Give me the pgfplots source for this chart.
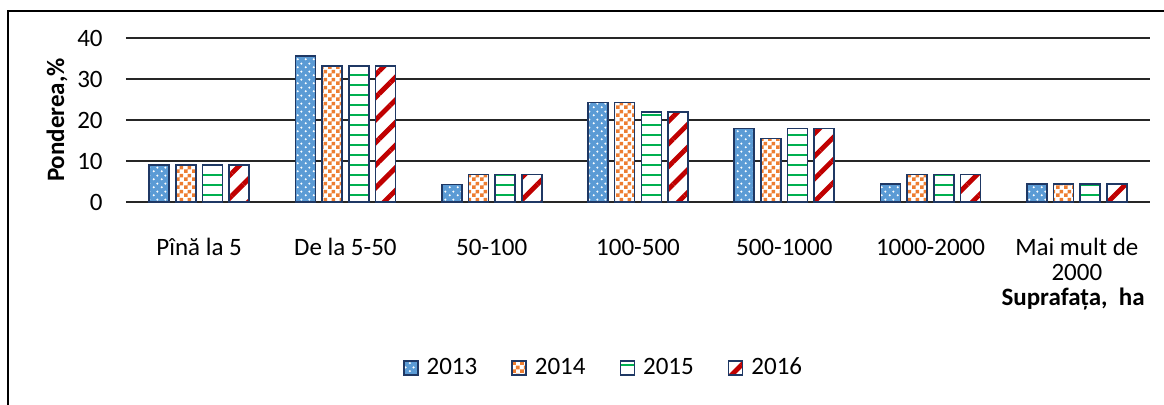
\documentclass[border=0pt]{standalone}
\usepackage{fontspec}
\setmainfont{Carlito}
\usepackage{pgfplots}
\pgfplotsset{compat=1.18}
\usetikzlibrary{patterns,patterns.meta}
\definecolor{c13}{RGB}{91,155,213}
\definecolor{c14}{RGB}{237,125,49}
\definecolor{c15}{RGB}{0,176,80}
\definecolor{c16}{RGB}{192,0,0}
\definecolor{bord}{RGB}{31,56,100}
\pgfdeclarepatternformonly{smallcheck}{\pgfpointorigin}{\pgfqpoint{4pt}{4pt}}{\pgfqpoint{4pt}{4pt}}{%
  \pgfpathrectangle{\pgfpointorigin}{\pgfqpoint{2pt}{2pt}}%
  \pgfpathrectangle{\pgfqpoint{2pt}{2pt}}{\pgfqpoint{2pt}{2pt}}%
  \pgfusepath{fill}}
\pgfdeclarepatternformonly{mydots}{\pgfpointorigin}{\pgfqpoint{4pt}{4pt}}{\pgfqpoint{4pt}{4pt}}{%
  \pgfpathcircle{\pgfqpoint{1pt}{1pt}}{0.65pt}%
  \pgfpathcircle{\pgfqpoint{3pt}{3pt}}{0.65pt}%
  \pgfusepath{fill}}
\pgfplotsset{
  sqleg/.style={legend image code/.code={\path[##1] (0pt,-3.5pt) rectangle (7pt,3.5pt);}},
}
\begin{document}
\begin{tikzpicture}[font=\fontsize{12.5}{15}\selectfont]
\useasboundingbox (-63pt,-101.5pt) rectangle (519pt,101pt);
\draw[line width=0.75pt] (-59pt,-102pt) -- (-59pt,95.5pt) -- (520pt,95.5pt);
\begin{axis}[
  at={(0,0)}, anchor=south west, scale only axis,
  width=512pt, height=82pt,
  xmin=-0.5, xmax=6.5, ymin=0, ymax=40,
  ytick={0,10,20,30,40},
  xtick={0,...,6},
  xticklabels={Pînă la 5, De la 5-50, 50-100, 100-500, 500-1000, 1000-2000, {\begin{tabular}[t]{@{}c@{}}Mai mult de\\[-2.5pt]2000\end{tabular}}},
  xticklabel style={anchor=base, yshift=-22.5pt},
  yticklabel style={anchor=east, inner sep=0pt, xshift=-11.5pt},
  /pgf/number format/assume math mode=true,
  axis line style={draw=none},
  major tick style={draw=none},
  ymajorgrids, grid style={black!85, line width=0.65pt},
  ybar, bar width=10pt,
  clip=false,
  legend columns=4,
  legend cell align=left,
  legend style={at={(0.2705,-1.012)}, anchor=west, draw=none, inner sep=0pt, outer sep=0pt,
    /tikz/every odd column/.append style={column sep=2pt},
    /tikz/every even column/.append style={column sep=15pt}},
]
\addplot[sqleg, bar shift=-20pt, preaction={fill=c13}, draw=bord, line width=0.8pt,
  pattern=mydots, pattern color=white]
  coordinates {(0,9.0) (1,35.6) (2,4.3) (3,24.3) (4,17.9) (5,4.4) (6,4.4)};
\addlegendentry{2013}
\addplot[sqleg, bar shift=-6.67pt, preaction={fill=white}, draw=bord, line width=0.8pt,
  pattern=smallcheck, pattern color=c14]
  coordinates {(0,9.0) (1,33.2) (2,6.7) (3,24.3) (4,15.5) (5,6.7) (6,4.4)};
\addlegendentry{2014}
\addplot[sqleg, bar shift=6.67pt, preaction={fill=white}, draw=bord, line width=0.8pt,
  pattern={Lines[angle=0,distance=5pt,line width=1pt]}, pattern color=c15]
  coordinates {(0,9.0) (1,33.2) (2,6.7) (3,22.0) (4,17.9) (5,6.7) (6,4.4)};
\addlegendentry{2015}
\addplot[sqleg, bar shift=20pt, preaction={fill=white}, draw=bord, line width=0.8pt,
  pattern={Lines[angle=45,distance=8pt,line width=2.4pt]}, pattern color=c16]
  coordinates {(0,9.0) (1,33.2) (2,6.7) (3,22.0) (4,17.9) (5,6.7) (6,4.4)};
\addlegendentry{2016}
\end{axis}
\node[rotate=90, font=\bfseries\fontsize{12.5}{15}\selectfont] at (-34.5pt,41pt) {Ponderea,\%};
\node[anchor=base east, inner sep=0pt, font=\bfseries\fontsize{12.5}{15}\selectfont] at (509.5pt,-52pt) {Suprafața,\ \ ha};
\end{tikzpicture}
\end{document}
